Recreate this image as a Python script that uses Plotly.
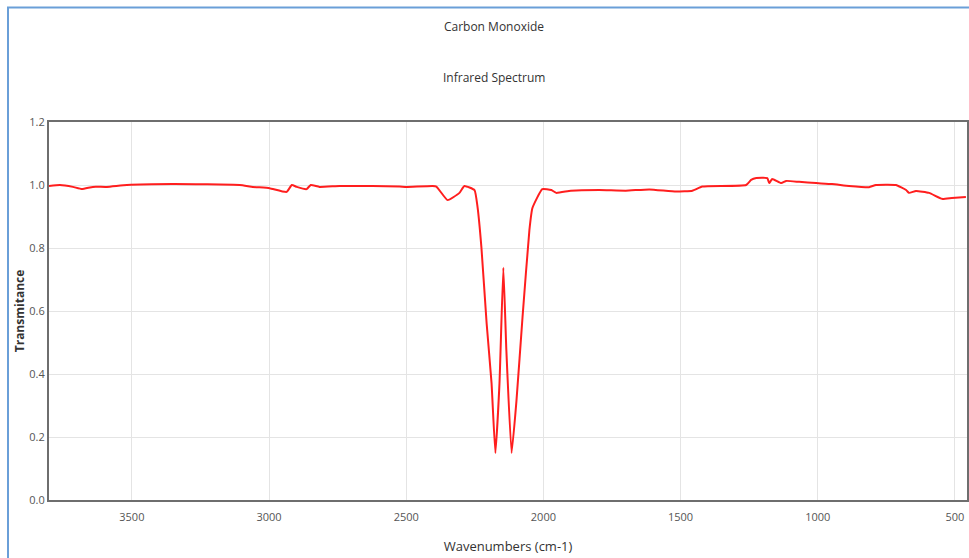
import plotly.graph_objects as go

# Wavenumbers (cm-1) and transmittance
wavenumber = [3802, 3762, 3715, 3682, 3642, 3591, 3518, 3351, 3107, 3059, 2998,
              2936, 2917, 2899, 2863, 2848, 2816, 2743, 2623, 2524, 2499, 2404,
              2390, 2349, 2306, 2288, 2251, 2240, 2226, 2207, 2189, 2175, 2160,
              2146, 2135, 2116, 2098, 2076, 2051, 2040, 2004, 1971, 1953, 1900,
              1796, 1700, 1614, 1516, 1457, 1421, 1261, 1243, 1224, 1184, 1177,
              1166, 1133, 1115, 1068, 1006, 948, 886, 813, 788, 715, 678, 667,
              642, 594, 547, 511, 460]
transmittance = [0.997, 1.000, 0.994, 0.987, 0.994, 0.994, 1.000, 1.003, 1.000,
                 0.994, 0.990, 0.978, 1.000, 0.994, 0.987, 1.000, 0.994, 0.997,
                 0.997, 0.995, 0.994, 0.997, 0.995, 0.952, 0.975, 0.997, 0.984,
                 0.930, 0.803, 0.562, 0.371, 0.149, 0.371, 0.737, 0.476, 0.149,
                 0.317, 0.581, 0.857, 0.927, 0.987, 0.984, 0.975, 0.982, 0.984,
                 0.982, 0.986, 0.979, 0.982, 0.995, 1.000, 1.016, 1.022, 1.022,
                 1.006, 1.019, 1.006, 1.013, 1.010, 1.006, 1.003, 0.997, 0.993,
                 1.000, 1.000, 0.984, 0.975, 0.981, 0.975, 0.956, 0.959, 0.962]

x_ticks = [3500, 3000, 2500, 2000, 1500, 1000, 500]
y_ticks = [0.0, 0.2, 0.4, 0.6, 0.8, 1.0, 1.2]

FONT = "Open Sans"
W, H = 969, 558
ML, MR, MT, MB = 49, 2, 122, 58
PW, PH = W - ML - MR, H - MT - MB

fig = go.Figure()
fig.add_trace(go.Scatter(
    x=wavenumber, y=transmittance, mode="lines",
    line=dict(color="rgb(255,30,30)", width=2, shape="spline", smoothing=0.4),
    showlegend=False,
))

fig.update_layout(
    width=W, height=H,
    margin=dict(l=ML, r=MR, t=MT, b=MB),
    paper_bgcolor="white", plot_bgcolor="white",
    font=dict(family=FONT, size=11, color="#555"),
    title=dict(text="Carbon Monoxide", x=(494 - ML) / PW, xref="paper", xanchor="center",
               y=1 - 27 / H, yanchor="middle",
               font=dict(family=FONT, size=12, color="#333")),
    annotations=[dict(text="Infrared Spectrum", xref="paper", yref="paper",
                      x=(494 - ML) / PW, y=(MT + PH - 77) / PH, xanchor="center", yanchor="middle",
                      showarrow=False, font=dict(family=FONT, size=12, color="#333"))],
    shapes=[dict(type="rect", xref="paper", yref="paper",
                 x0=(8 - ML) / PW, x1=1.2, y0=-0.4, y1=(MT + PH - 7.5) / PH,
                 line=dict(color="#6a9fd8", width=2), fillcolor="rgba(0,0,0,0)",
                 layer="below")],
)

fig.update_xaxes(
    range=[3802, 456], tickvals=x_ticks, ticktext=[str(v) for v in x_ticks],
    showgrid=True, gridcolor="#e4e4e4", gridwidth=1,
    showline=True, mirror=True, linecolor="#6e6e6e", linewidth=2,
    ticks="outside", ticklen=6, tickcolor="rgba(0,0,0,0)", zeroline=False,
    automargin=False,
    title=dict(text="Wavenumbers (cm-1)", font=dict(family=FONT, size=13, color="#333"), standoff=19),
)
fig.update_yaxes(
    range=[0, 1.2], tickvals=y_ticks, tickformat=".1f",
    showgrid=True, gridcolor="#e4e4e4", gridwidth=1,
    showline=True, mirror=True, linecolor="#6e6e6e", linewidth=2,
    ticks="", zeroline=False, automargin=False,
    title=dict(text="<b>Transmitance</b>", font=dict(family=FONT, size=12, color="#333"), standoff=2),
)

fig.write_html("out.html", config={"displayModeBar": False},
               post_script="document.body.style.margin='0';document.body.style.overflow='hidden';")
